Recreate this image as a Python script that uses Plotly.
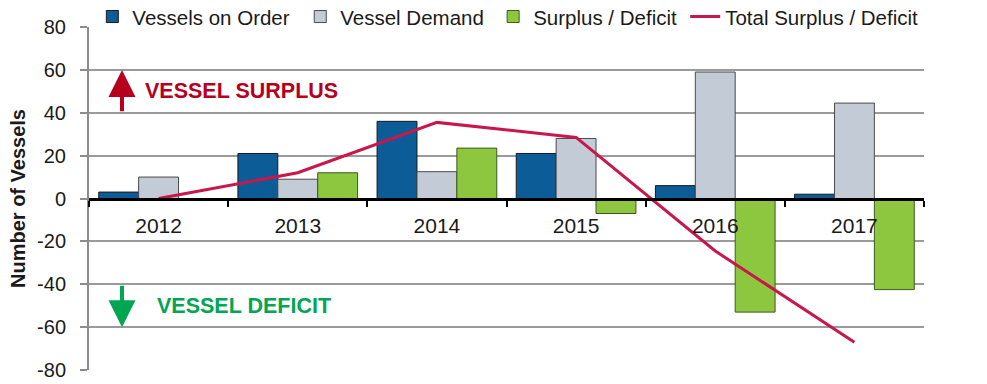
import plotly.graph_objects as go

years = ["2012", "2013", "2014", "2015", "2016", "2017"]
vessels_on_order = [3, 21, 36, 21, 6, 2]
vessel_demand = [10, 9, 12.5, 28, 59, 44.5]
surplus_deficit = [0, 12, 23.5, -7, -53, -42.5]
total_surplus_deficit = [0, 12, 35.5, 28.5, -24.5, -67]
y_ticks = [-80, -60, -40, -20, 0, 20, 40, 60, 80]
y_tick_labels = ["-80", "-60", "-40", "-20", "0", "20", "40", "60", "80"]

FONT = "Liberation Sans, Arial, sans-serif"

fig = go.Figure()
fig.add_trace(go.Bar(name="Vessels on Order", x=years, y=vessels_on_order, legend="legend",
                     marker=dict(color="#0B5C97", line=dict(color="#1a1a1a", width=1))))
fig.add_trace(go.Bar(name="Vessel Demand", x=years, y=vessel_demand, legend="legend2",
                     marker=dict(color="#C3CBD6", line=dict(color="#4a4a4a", width=1))))
fig.add_trace(go.Bar(name="Surplus / Deficit", x=years, y=surplus_deficit, legend="legend3",
                     marker=dict(color="#8DC63F", line=dict(color="#3d5a1c", width=1))))
fig.add_trace(go.Scatter(name="Total Surplus / Deficit", x=years, y=total_surplus_deficit,
                         legend="legend4", mode="lines", line=dict(color="#C8174B", width=3)))

def legend_at(xpos):
    return dict(orientation="h", x=xpos, xanchor="left", y=1.03, yanchor="middle",
                font=dict(size=20.5, family=FONT, color="#1a1a1a"),
                bgcolor="rgba(0,0,0,0)", itemwidth=30)

fig.update_layout(
    width=987, height=384,
    margin=dict(l=89, r=63, t=27, b=14, autoexpand=False),
    paper_bgcolor="white", plot_bgcolor="white",
    barmode="group", bargap=0.14, bargroupgap=0,
    font=dict(family=FONT, color="#1a1a1a"),
    showlegend=True,
    legend=legend_at(0.004),
    legend2=legend_at(0.253),
    legend3=legend_at(0.484),
    legend4=legend_at(0.714),
    xaxis=dict(type="category", anchor="free", position=0.5,
               showline=True, linecolor="black", linewidth=3,
               ticks="outside", tickson="boundaries", ticklen=6, tickwidth=2, tickcolor="black",
               ticklabelstandoff=7,
               tickfont=dict(size=21, family=FONT, color="#1a1a1a"),
               showgrid=False, zeroline=False),
    yaxis=dict(range=[-80, 80], tickvals=y_ticks, ticktext=y_tick_labels,
               showline=True, linecolor="#8c8c8c", linewidth=2,
               ticks="outside", ticklen=7, tickwidth=1.5, tickcolor="#8c8c8c",
               ticklabelstandoff=10,
               showgrid=True, gridcolor="#9a9a9a", gridwidth=1.5, zeroline=False,
               tickfont=dict(size=20, family=FONT, color="#1a1a1a"),
               title=dict(text="<b>Number of Vessels</b>", standoff=6,
                          font=dict(size=20, family=FONT, color="#1a1a1a"))),
)

fig.add_annotation(xref="paper", yref="y", x=0.183, y=50, xanchor="center",
                   text="<b>VESSEL SURPLUS</b>",
                   showarrow=False, font=dict(size=21.5, family=FONT, color="#B5001E"))
fig.add_annotation(xref="paper", yref="y", x=0.186, y=-50, xanchor="center",
                   text="<b>VESSEL DEFICIT</b>",
                   showarrow=False, font=dict(size=21.5, family=FONT, color="#00A651"))
fig.add_annotation(xref="paper", yref="y", x=0.0395, y=60, text="", showarrow=True,
                   axref="pixel", ax=0, ayref="y", ay=40, arrowhead=2, arrowsize=1.35,
                   arrowwidth=4, arrowcolor="#B5001E", standoff=0, startstandoff=0)
fig.add_annotation(xref="paper", yref="y", x=0.0395, y=-60, text="", showarrow=True,
                   axref="pixel", ax=0, ayref="y", ay=-40, arrowhead=2, arrowsize=1.35,
                   arrowwidth=4, arrowcolor="#00A651", standoff=0, startstandoff=0)

fig.write_html("out.html", config={"displayModeBar": False},
               post_script="document.body.style.margin='0px';")
